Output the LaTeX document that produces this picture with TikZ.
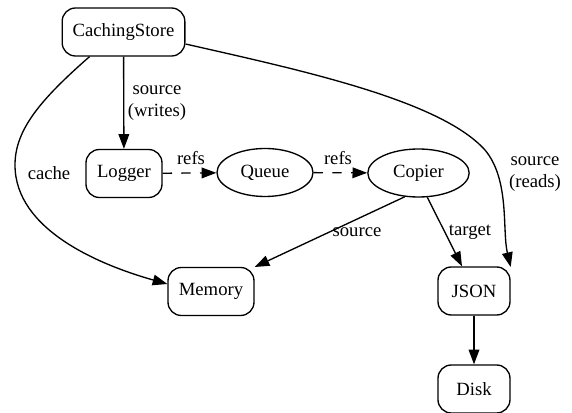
\documentclass[tikz,border=0pt]{standalone}
\usepackage{fontspec}
\setmainfont{Liberation Serif}
\newfontfamily\gvfont{Liberation Serif}
\usetikzlibrary{shapes.geometric,arrows.meta}
\begin{document}
\begin{tikzpicture}[x=0.75pt,y=-0.75pt,
  every node/.style={font=\gvfont\fontsize{14pt}{16pt}\selectfont, inner sep=0pt},
  rbox/.style={draw, line width=1pt, rounded corners=10pt, minimum height=36pt},
  ebox/.style={draw, line width=1pt, ellipse, minimum height=36pt},
  edge/.style={draw, line width=1pt, -{Triangle[length=11pt,width=8pt]}},
  dedge/.style={edge, dash pattern=on 7pt off 7pt},
  lbl/.style={align=center}]
\useasboundingbox (0,0) rectangle (572,413);
\node[rbox, minimum width=92pt] (cs) at (123.5,32) {CachingStore};
\node[rbox, minimum width=57pt] (logger) at (124,173.5) {Logger};
\node[ebox, minimum width=72pt] (queue) at (265,172.5) {Queue};
\node[ebox, minimum width=76pt] (copier) at (418.5,173) {Copier};
\node[rbox, minimum width=64.5pt] (memory) at (211,291.5) {Memory};
\node[rbox, minimum width=54pt] (json) at (474,291) {JSON};
\node[rbox, minimum width=54pt] (disk) at (474,389) {Disk};

\draw[edge] (cs) -- (logger);
\node[lbl] (l1) at (157,103) {source\\(writes)};
\draw[edge] (cs.south west) ++(28,0) coordinate (c1)
  (c1) .. controls (40,100) and (15,130) .. (15,165)
  .. controls (15,230) and (100,265) .. (memory.west |- 0,284);
\node[lbl] (l2) at (49,173) {cache};
\draw[edge] (cs.east |- 0,44) .. controls (300,70) and (440,100) .. (485,150)
  .. controls (510,180) and (502,230) .. (json.north east |- 493,267);
\node[lbl] (l3) at (535,174) {source\\(reads)};
\draw[dedge] (logger) -- (queue);
\node[lbl] (l4) at (191,158) {refs};
\draw[dedge] (queue) -- (copier);
\node[lbl] (l5) at (338,158) {refs};
\draw[edge] (copier.240) -- (memory.north east |- 255,267);
\node[lbl] (l6) at (357,232) {source};
\draw[edge] (copier.290) -- (json.north -| 462,0);
\node[lbl] (l7) at (470,232) {target};
\draw[edge] (json) -- (disk);
\end{tikzpicture}
\end{document}
